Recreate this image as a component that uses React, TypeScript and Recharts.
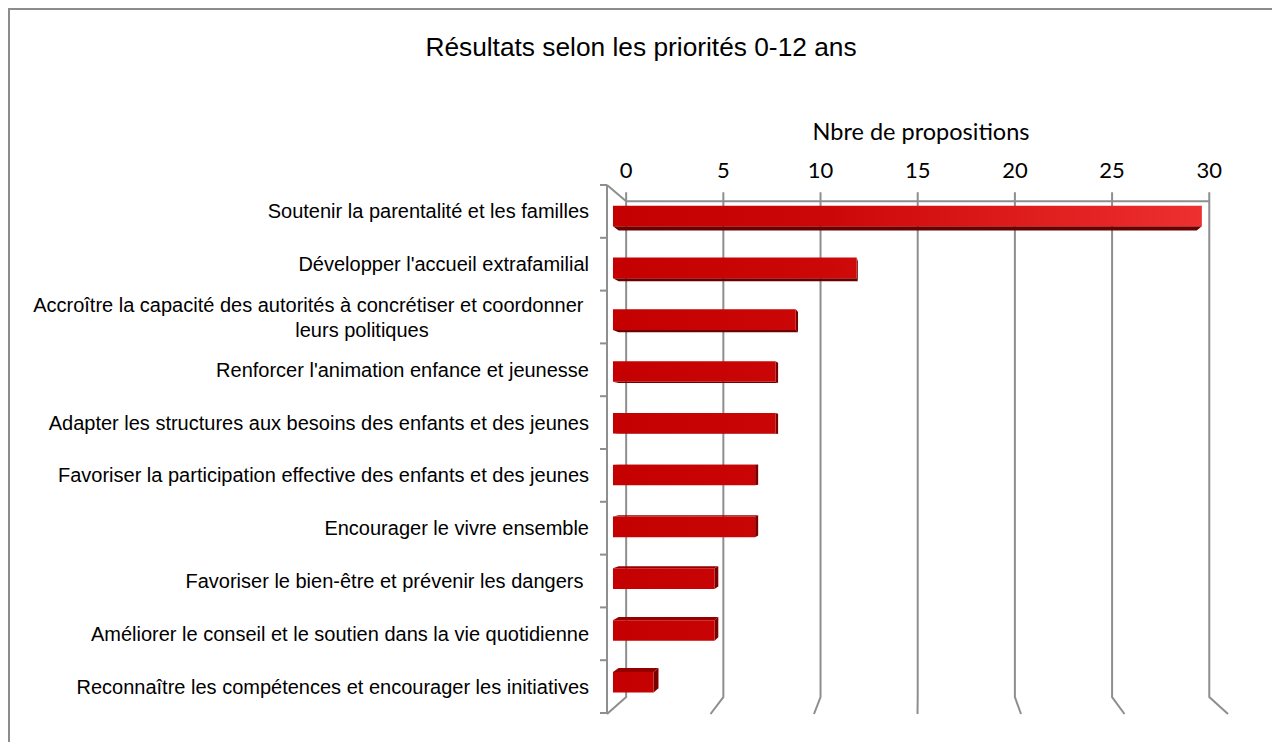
import React from 'react';
import { BarChart, Bar, XAxis, YAxis, CartesianGrid } from 'recharts';

const categories = [
  'Soutenir la parentalité et les familles',
  "Développer l'accueil extrafamilial",
  'Accroître la capacité des autorités à concrétiser et coordonner \nleurs politiques',
  "Renforcer l'animation enfance et jeunesse",
  'Adapter les structures aux besoins des enfants et des jeunes',
  'Favoriser la participation effective des enfants et des jeunes',
  'Encourager le vivre ensemble',
  'Favoriser le bien-être et prévenir les dangers ',
  'Améliorer le conseil et le soutien dans la vie quotidienne',
  'Reconnaître les compétences et encourager les initiatives',
];
const values = [29, 12, 9, 8, 8, 7, 7, 5, 5, 2];
const xTicks = [0, 5, 10, 15, 20, 25, 30];
const chartTitle = 'Résultats selon les priorités 0-12 ans';
const axisTitle = 'Nbre de propositions';

const data = categories.map((name, i) => ({ name, value: values[i] }));

const W = 1266;
const H = 732;
const Y_AXIS_W = 580;
const X_AXIS_H = 60;
const MARGIN = { top: 115, right: 48, bottom: 29, left: 17 };
const PLOT_LEFT = MARGIN.left + Y_AXIS_W;
const PLOT_TOP = MARGIN.top + X_AXIS_H;
const PLOT_RIGHT = W - MARGIN.right;
const PLOT_BOTTOM = H - MARGIN.bottom;
const BAND = (PLOT_BOTTOM - PLOT_TOP) / categories.length;

// perspective
const VX = 911;
const VY = 442;
const KW = 0.939; // back wall
const KF = 0.981; // bar front face
const KB = 0.963; // bar back face
const proj = (x: number, y: number, k: number): [number, number] => [VX + (x - VX) * k, VY + (y - VY) * k];

const GRID = '#8e8e8e';
const LABEL_FONT = '"Liberation Sans", Arial, sans-serif';
const NUM_FONT = 'Lato, "Open Sans", sans-serif';

const gridLine = (props: any) => {
  const { x1, index } = props;
  const xb = VX + (x1 - VX) * KW;
  const yTop = proj(0, PLOT_TOP, KW)[1];
  const yBot = proj(0, PLOT_BOTTOM, KW)[1];
  const tl = proj(PLOT_LEFT, PLOT_TOP, KW);
  const tr = proj(PLOT_RIGHT, PLOT_TOP, KW);
  return (
    <g key={`grid-${index}`}>
      <polyline
        points={`${xb},${yTop - 9} ${xb},${yBot} ${x1},${PLOT_BOTTOM + 1}`}
        fill="none"
        stroke={GRID}
        strokeWidth={2}
      />
      {index === 0 && (
        <g>
          <line x1={tl[0]} y1={tl[1]} x2={tr[0]} y2={tr[1]} stroke={GRID} strokeWidth={2} />
          <line x1={PLOT_LEFT} y1={PLOT_TOP} x2={tl[0]} y2={tl[1]} stroke={GRID} strokeWidth={2} />
        </g>
      )}
    </g>
  );
};

const XTick = (props: any) => {
  const { x, payload } = props;
  const xb = VX + (x - VX) * KW;
  return (
    <text x={xb} y={159} textAnchor="middle" dominantBaseline="central" fontFamily={NUM_FONT} fontSize={22} fill="#000">
      {payload.value}
    </text>
  );
};

const CatTick = (props: any) => {
  const { y, payload, index } = props;
  const lines = String(payload.value).split('\n');
  const tx = PLOT_LEFT - 18;
  return (
    <g>
      <line x1={PLOT_LEFT - 7} y1={y - BAND / 2} x2={PLOT_LEFT} y2={y - BAND / 2} stroke={GRID} strokeWidth={2} />
      {index === categories.length - 1 && (
        <line x1={PLOT_LEFT - 7} y1={y + BAND / 2} x2={PLOT_LEFT} y2={y + BAND / 2} stroke={GRID} strokeWidth={2} />
      )}
      {lines.length === 1 ? (
        <text x={tx} y={y} textAnchor="end" dominantBaseline="central" fontFamily={LABEL_FONT} fontSize={20} fill="#000" style={{ whiteSpace: 'pre' }}>
          {lines[0]}
        </text>
      ) : (
        <g>
          <text x={tx} y={y - 12} textAnchor="end" dominantBaseline="central" fontFamily={LABEL_FONT} fontSize={20} fill="#000" style={{ whiteSpace: 'pre' }}>
            {lines[0]}
          </text>
          <text x={352} y={y + 13} textAnchor="middle" dominantBaseline="central" fontFamily={LABEL_FONT} fontSize={20} fill="#000">
            {lines[1]}
          </text>
        </g>
      )}
    </g>
  );
};

const Bar3D = (props: any) => {
  const { x, y, width, height, index } = props;
  if (width == null || height == null) return null;
  const x0 = x;
  const x1 = x + width;
  const y0 = y;
  const y1 = y + height;
  const f = (px: number, py: number) => proj(px, py, KF);
  const b = (px: number, py: number) => proj(px, py, KB);
  const fTL = f(x0, y0), fTR = f(x1, y0), fBR = f(x1, y1), fBL = f(x0, y1);
  const bTL = b(x0, y0), bTR = b(x1, y0), bBR = b(x1, y1), bBL = b(x0, y1);
  const pts = (arr: [number, number][]) => arr.map((p) => `${p[0]},${p[1]}`).join(' ');
  const cy = (y0 + y1) / 2;
  const gid = `barGrad${index}`;
  const g0 = proj(PLOT_LEFT, 0, KF)[0];
  const g1 = proj(PLOT_RIGHT, 0, KF)[0];
  return (
    <g>
      <defs>
        <linearGradient id={gid} gradientUnits="userSpaceOnUse" x1={g0} y1={0} x2={g1} y2={0}>
          <stop offset="0" stopColor="#c40000" />
          <stop offset="0.35" stopColor="#cc0707" />
          <stop offset="1" stopColor="#f03232" />
        </linearGradient>
      </defs>
      {cy < VY ? (
        <polygon points={pts([fBL, fBR, bBR, bBL])} fill="#6a0000" />
      ) : (
        <polygon points={pts([fTL, fTR, bTR, bTL])} fill="#940000" />
      )}
      {x1 < VX && <polygon points={pts([fTR, fBR, bBR, bTR])} fill="#7a0000" />}
      <polygon points={pts([fTL, fTR, fBR, fBL])} fill={`url(#${gid})`} />
    </g>
  );
};

export default function App() {
  return (
    <div
      style={{
        position: 'relative',
        width: 1270,
        height: 734,
        boxSizing: 'border-box',
        border: '2px solid #8c8c8c',
        borderBottom: 'none',
        background: '#fff',
        overflow: 'hidden',
      }}
    >
      <BarChart width={W} height={H} data={data} layout="vertical" margin={MARGIN} barSize={21}>
        <CartesianGrid horizontal={false} vertical={gridLine} />
        <XAxis
          type="number"
          orientation="top"
          domain={[0, 30]}
          ticks={xTicks}
          height={X_AXIS_H}
          axisLine={false}
          tickLine={false}
          tick={<XTick />}
          interval={0}
        />
        <YAxis
          type="category"
          dataKey="name"
          width={Y_AXIS_W}
          axisLine={{ stroke: GRID, strokeWidth: 2 }}
          tickLine={false}
          tick={<CatTick />}
          interval={0}
        />
        <Bar dataKey="value" isAnimationActive={false} shape={(p: any) => <Bar3D {...p} />} />
      </BarChart>
      <div
        style={{
          position: 'absolute',
          left: 0,
          top: 22,
          width: 1262,
          textAlign: 'center',
          fontFamily: LABEL_FONT,
          fontSize: 26.3,
          lineHeight: '30px',
          color: '#000',
          pointerEvents: 'none',
        }}
      >
        {chartTitle}
      </div>
      <div
        style={{
          position: 'absolute',
          left: VX - 200,
          top: 121 - 14,
          width: 400,
          textAlign: 'center',
          fontFamily: NUM_FONT,
          fontSize: 23.5,
          lineHeight: '28px',
          color: '#000',
          pointerEvents: 'none',
        }}
      >
        {axisTitle}
      </div>
    </div>
  );
}
